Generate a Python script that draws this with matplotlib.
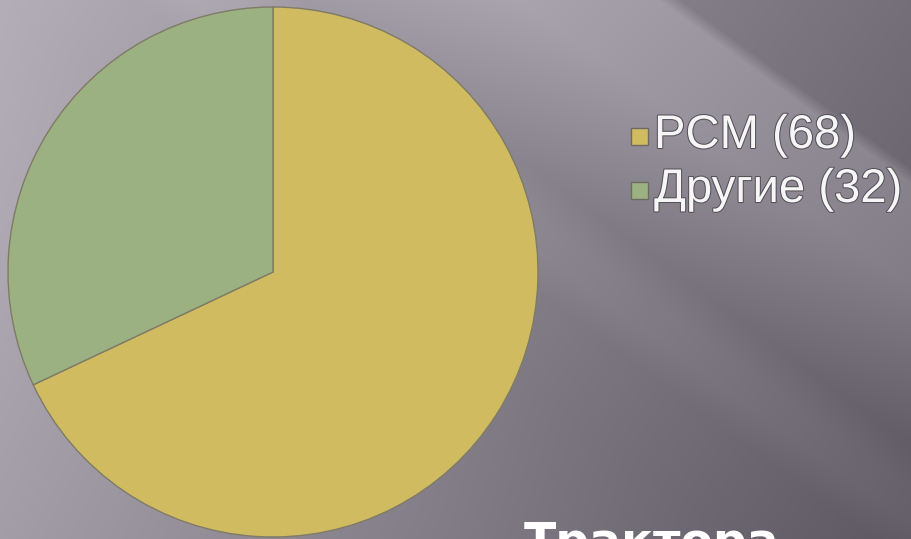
import numpy as np
import matplotlib.pyplot as plt
import matplotlib.patheffects as pe
from matplotlib.patches import Rectangle

labels = ["PCM", "Другие"]
values = [68, 32]
colors = ["#D1BB61", "#9CB181"]
title = "Трактора"

W, H = 911, 539
fig = plt.figure(figsize=(W / 100, H / 100), dpi=100)

# background: grey gradient with diagonal light streaks
bg = fig.add_axes([0, 0, 1, 1])
yy, xx = np.mgrid[0:H, 0:W].astype(float)
u = xx + 0.73 * yy
s = yy - 0.73 * xx
band = np.interp(s, [-700, -497, -481, -380, -220, -175, -140, -100, 0, 200, 539],
                 [-3, -3, 25, 24, 0, 7, 7, 0, 0, 5, 9])
v = 179 - 0.066 * u + band
img = np.stack([v, v - 5, v + 4], axis=-1) / 255.0
bg.imshow(np.clip(img, 0, 1), extent=[0, W, H, 0], aspect="auto")
bg.set_xlim(0, W)
bg.set_ylim(H, 0)
bg.axis("off")

# pie
ax = fig.add_axes([8 / W, 2 / H, 530 / W, 530 / H])
ax.pie(values, colors=colors, startangle=90, counterclock=False,
       wedgeprops=dict(edgecolor="#7f7b66", linewidth=1.0))
ax.set_xlim(-1.0, 1.0)
ax.set_ylim(-1.0, 1.0)
ax.set_aspect("equal")
ax.axis("off")

# legend
shadow = [pe.withStroke(linewidth=1.5, foreground="#55505a")]
for i, (lab, val, col) in enumerate(zip(labels, values, colors)):
    y = 136 + i * 54
    bg.add_patch(Rectangle((631, y - 8.5), 17, 17, facecolor=col,
                           edgecolor="#6e6a62", linewidth=1.0))
    bg.text(654, y, f"{lab} ({val})", fontsize=34, color="#f6f6f6",
            family="Liberation Sans", va="center", ha="left",
            path_effects=shadow)

bg.text(524, 521, title, fontsize=34, fontweight="bold", color="white",
        family="DejaVu Sans", va="top", ha="left")

fig.savefig("out.png", dpi=100)
